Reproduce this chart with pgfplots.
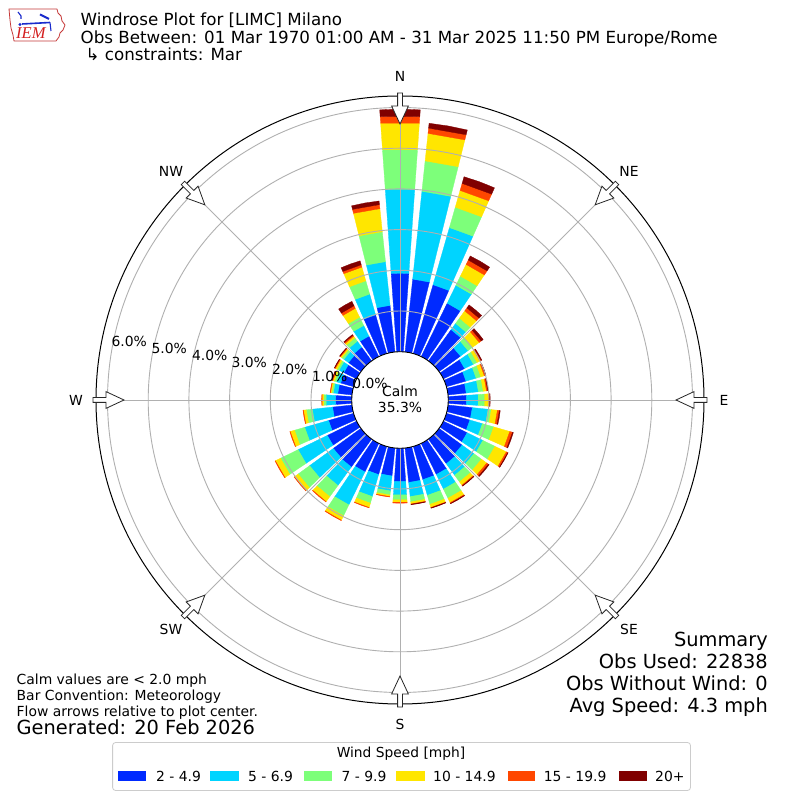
\documentclass[border=0pt]{standalone}
\usepackage{pgfplots}
\pgfplotsset{compat=1.18}
\usepackage{pgfplotstable}
\usepackage{fontspec}
\setmainfont{DejaVu Sans}
\newfontfamily\logofont{Liberation Serif}
\definecolor{wsA}{HTML}{002AFF}
\definecolor{wsB}{HTML}{00D4FF}
\definecolor{wsC}{HTML}{7DFF7A}
\definecolor{wsD}{HTML}{FFE600}
\definecolor{wsE}{HTML}{FF4700}
\definecolor{wsF}{HTML}{800000}
\definecolor{gridc}{HTML}{B0B0B0}
\definecolor{legedge}{HTML}{CCCCCC}
\definecolor{logored}{HTML}{D42020}
\definecolor{logoblue}{HTML}{1A2BCC}

% cumulative percent per direction (meteorological degrees)
\pgfplotstableread{
dir b c g y o d
0 1.93 4.00 4.98 5.63 5.79 5.96
10 1.80 3.97 4.72 5.40 5.53 5.65
20 1.76 3.22 3.74 4.17 4.35 4.52
30 1.46 1.95 2.20 2.52 2.64 2.75
40 0.95 1.14 1.30 1.52 1.61 1.70
50 0.65 0.88 1.02 1.22 1.28 1.34
60 0.58 0.82 0.92 1.00 1.03 1.05
70 0.50 0.76 0.88 0.97 1.00 1.01
80 0.45 0.75 0.87 0.95 0.98 0.99
90 0.45 0.74 0.90 1.00 1.02 1.03
100 0.60 0.99 1.07 1.22 1.27 1.29
110 0.60 0.92 1.21 1.62 1.69 1.71
120 0.65 1.08 1.41 1.72 1.76 1.77
130 0.70 1.06 1.29 1.45 1.50 1.52
140 0.75 1.10 1.30 1.40 1.42 1.43
150 0.85 1.25 1.50 1.62 1.64 1.65
160 0.85 1.25 1.48 1.56 1.57 1.58
170 0.85 1.20 1.33 1.38 1.39 1.40
180 0.82 1.15 1.27 1.33 1.35 1.35
190 0.69 1.06 1.16 1.20 1.21 1.21
200 0.72 1.28 1.45 1.56 1.57 1.57
210 0.78 1.68 1.98 2.10 2.11 2.11
220 0.85 1.41 1.75 1.90 1.91 1.91
230 0.84 1.56 1.91 2.02 2.03 2.03
240 0.80 1.60 2.08 2.22 2.23 2.23
250 0.64 1.25 1.51 1.62 1.63 1.63
260 0.48 0.98 1.13 1.20 1.21 1.21
270 0.40 0.63 0.69 0.73 0.74 0.74
280 0.35 0.46 0.50 0.53 0.54 0.54
290 0.33 0.44 0.49 0.53 0.55 0.56
300 0.35 0.48 0.53 0.58 0.60 0.61
310 0.38 0.52 0.58 0.62 0.64 0.65
320 0.42 0.60 0.70 0.75 0.78 0.80
330 0.56 0.85 1.08 1.32 1.39 1.51
340 0.99 1.52 1.86 2.21 2.27 2.37
350 1.15 2.23 2.97 3.54 3.64 3.73
}\windtable

% #1 direction, #2 inner cumulative %, #3 outer cumulative %, #4 colour
\newcommand\wedgeplot[4]{%
  \pgfmathsetmacro\thk{#3-#2}%
  \ifdim\thk pt>0.004pt
  \pgfmathsetmacro\rA{48.3+40.7*#2}%
  \pgfmathsetmacro\rB{48.3+40.7*#3}%
  \pgfmathsetmacro\xA{400+\rA*sin(#1-4)}%
  \pgfmathsetmacro\yA{400-\rA*cos(#1-4)}%
  \pgfmathsetmacro\xB{400+\rA*sin(#1+4)}%
  \pgfmathsetmacro\yB{400-\rA*cos(#1+4)}%
  \pgfmathsetmacro\xC{400+\rB*sin(#1+4)}%
  \pgfmathsetmacro\yC{400-\rB*cos(#1+4)}%
  \pgfmathsetmacro\xM{400+\rB*sin(#1)}%
  \pgfmathsetmacro\yM{400-\rB*cos(#1)}%
  \pgfmathsetmacro\xD{400+\rB*sin(#1-4)}%
  \pgfmathsetmacro\yD{400-\rB*cos(#1-4)}%
  \edef\tmp{\noexpand\addplot[fill=#4,draw=#4,line width=0.3pt,forget plot] coordinates {(\xA,\yA) (\xB,\yB) (\xC,\yC) (\xM,\yM) (\xD,\yD)} --cycle;}%
  \tmp
  \fi
}

\newcommand\fs[1]{\fontsize{#1}{#1}\selectfont}

\begin{document}
\begin{tikzpicture}
\begin{axis}[x=1pt,y=1pt,xmin=0,xmax=800,ymin=0,ymax=800,y dir=reverse,
  hide axis,clip=false]
\fill[white] (axis cs:0,0) rectangle (axis cs:800,800);
\coordinate (TL) at (axis cs:0,0);
\pgfplotsinvokeforeach{0,...,35}{%
  \pgfplotstablegetelem{#1}{dir}\of\windtable\edef\vdir{\pgfplotsretval}%
  \pgfplotstablegetelem{#1}{b}\of\windtable\edef\vb{\pgfplotsretval}%
  \pgfplotstablegetelem{#1}{c}\of\windtable\edef\vc{\pgfplotsretval}%
  \pgfplotstablegetelem{#1}{g}\of\windtable\edef\vg{\pgfplotsretval}%
  \pgfplotstablegetelem{#1}{y}\of\windtable\edef\vy{\pgfplotsretval}%
  \pgfplotstablegetelem{#1}{o}\of\windtable\edef\vo{\pgfplotsretval}%
  \pgfplotstablegetelem{#1}{d}\of\windtable\edef\vd{\pgfplotsretval}%
  \wedgeplot{\vdir}{0}{\vb}{wsA}%
  \wedgeplot{\vdir}{\vb}{\vc}{wsB}%
  \wedgeplot{\vdir}{\vc}{\vg}{wsC}%
  \wedgeplot{\vdir}{\vg}{\vy}{wsD}%
  \wedgeplot{\vdir}{\vy}{\vo}{wsE}%
  \wedgeplot{\vdir}{\vo}{\vd}{wsF}%
}
\end{axis}

% grid, spine, calm circle, flow arrows (centre-based, y up, pt)
\begin{scope}[shift={(TL)},xshift=400pt,yshift=-400pt]
  \foreach \r in {89,129.7,170.4,211.1,251.8,292.5}
    \draw[gridc,line width=0.9pt] (0,0) circle[radius=\r pt];
  \foreach \a in {0,45,...,315}
    \draw[gridc,line width=0.9pt] (90-\a:48.3pt) -- (90-\a:304pt);
  \draw[black,line width=1pt] (0,0) circle[radius=304pt];
  \draw[black,line width=0.9pt,fill=white] (0,0) circle[radius=48.3pt];
  \foreach \a in {0,45,...,315}{
    \begin{scope}[rotate=-\a]
      \draw[fill=white,draw=black!85,line width=0.8pt,line join=miter]
        (-2.4pt,307pt) -- (-2.4pt,294pt) -- (-8.4pt,294pt) -- (0pt,276pt)
        -- (8.4pt,294pt) -- (2.4pt,294pt) -- (2.4pt,307pt) -- cycle;
    \end{scope}
  }
\end{scope}

% texts (pixel coordinates, y down)
\begin{scope}[shift={(TL)},x=1pt,y=-1pt]
  % logo
  \draw[red!55!gray,line width=0.8pt,line join=round]
    (9,9) -- (57,9) -- (58,13) -- (61,16) -- (62,21) -- (65,25) -- (63,30)
    -- (60,33) -- (59,37) -- (56,41) -- (14,41) -- (13,35) -- (11,28)
    -- (10,20) -- cycle;
  \draw[logoblue,line width=1.6pt] (22,24) -- (50,22.5);
  \fill[logoblue] (20,24.5) circle[radius=1.6pt];
  \draw[logoblue,line width=1.1pt] (18,12) -- (21,16) -- (21,19);
  \draw[logoblue,line width=2pt] (40,14.5) -- (49,19);
  \draw[logoblue,line width=1.1pt] (50,22.5) -- (51,31);
  \node[anchor=base west,inner sep=0,text=logored,font={\logofont\itshape\fs{16.5}}] at (16,38.5) {IEM};
  % title
  \node[anchor=base west,inner sep=0,font={\fs{16.7}}] at (80.5,26) {Windrose Plot for [LIMC] Milano};
  \node[anchor=base west,inner sep=0,font={\fs{16.7}}] at (80.5,43.5) {Obs Between: 01 Mar 1970 01:00 AM - 31 Mar 2025 11:50 PM Europe/Rome};
  \node[anchor=base west,inner sep=0,font={\fs{16.7}}] at (85.5,61) {↳ constraints: Mar};
  % compass labels
  \foreach \lab/\px/\py in {N/400/76,NE/629/171,E/724/400,SE/629/629,S/400/724,SW/171/629,W/76/400,NW/171/171}
    \node[inner sep=0,font={\fs{13.9}}] at (\px,\py) {\lab};
  % radial labels
  \foreach \lab/\px/\py in {0.0/370/383.7,1.0/329.7/376.7,2.0/289.7/369.3,3.0/249.3/362.3,4.0/209.7/355,5.0/169.3/348.3,6.0/129.3/341.7}
    \node[inner sep=0,font={\fs{13.9}}] at (\px,\py) {\lab\%};
  % calm
  \node[inner sep=0,font={\fs{13.9}}] at (400,391.5) {Calm};
  \node[inner sep=0,font={\fs{13.9}}] at (400,407.5) {35.3\%};
  % footer
  \node[anchor=base west,inner sep=0,font={\fs{13.9}}] at (16.5,685) {Calm values are < 2.0 mph};
  \node[anchor=base west,inner sep=0,font={\fs{13.9}}] at (16.5,701) {Bar Convention: Meteorology};
  \node[anchor=base west,inner sep=0,font={\fs{13.9}}] at (16.5,716.7) {Flow arrows relative to plot center.};
  \node[anchor=base west,inner sep=0,font={\fs{19.4}}] at (16.5,735) {Generated: 20 Feb 2026};
  % summary
  \node[anchor=base east,inner sep=0,font={\fs{19.4}}] at (768,647) {Summary};
  \node[anchor=base east,inner sep=0,font={\fs{19.4}}] at (768,669) {Obs Used: 22838};
  \node[anchor=base east,inner sep=0,font={\fs{19.4}}] at (768,691) {Obs Without Wind: 0};
  \node[anchor=base east,inner sep=0,font={\fs{19.4}}] at (768,713) {Avg Speed: 4.3 mph};
  % legend
  \draw[legedge,fill=white,rounded corners=3pt,line width=0.8pt] (112.6,742.5) rectangle (690.5,790.5);
  \node[inner sep=0,font={\fs{13.8}}] at (401,754) {Wind Speed [mph]};
  \fill[wsA] (118.2,771.5) rectangle (145.8,781.3);
  \fill[wsB] (210.0,771.5) rectangle (238.5,781.3);
  \fill[wsC] (304.0,771.5) rectangle (332.0,781.3);
  \fill[wsD] (396.0,771.5) rectangle (424.6,781.3);
  \fill[wsE] (507.8,771.5) rectangle (535.4,781.3);
  \fill[wsF] (618.6,771.5) rectangle (646.6,781.3);
  \foreach \lab/\px in {2 - 4.9/156,5 - 6.9/248,7 - 9.9/341.4,10 - 14.9/433,15 - 19.9/543.7,20+/655}
    \node[anchor=base west,inner sep=0,font={\fs{13.9}}] at (\px,781.4) {\lab};
\end{scope}
\end{tikzpicture}
\end{document}
